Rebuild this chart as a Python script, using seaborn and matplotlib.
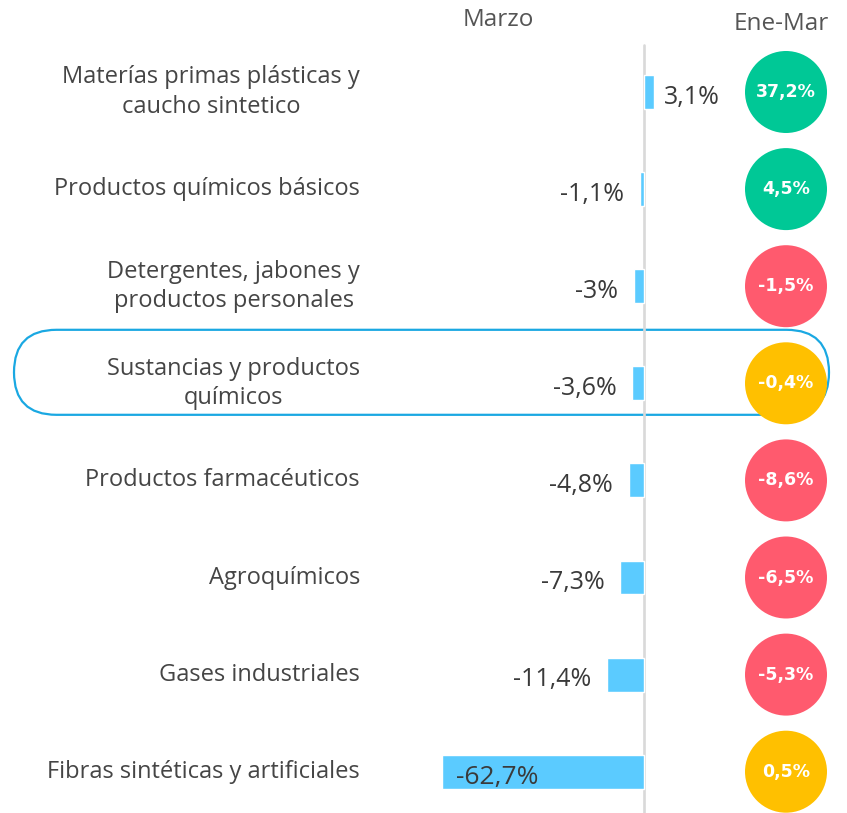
import matplotlib
matplotlib.use("Agg")
import matplotlib.pyplot as plt
import seaborn as sns
import pandas as pd
from matplotlib.patches import FancyBboxPatch

# ---- data ----
categorias = [
    "Materías primas plásticas y\ncaucho sintetico",
    "Productos químicos básicos",
    "Detergentes, jabones y\nproductos personales",
    "Sustancias y productos\nquímicos",
    "Productos farmacéuticos",
    "Agroquímicos",
    "Gases industriales",
    "Fibras sintéticas y artificiales",
]
marzo = [3.1, -1.1, -3.0, -3.6, -4.8, -7.3, -11.4, -62.7]
ene_mar = [37.2, 4.5, -1.5, -0.4, -8.6, -6.5, -5.3, 0.5]
titulo_marzo = "Marzo"
titulo_acum = "Ene-Mar"
fila_destacada = "Sustancias y productos\nquímicos"

# ---- style ----
sns.set_theme(style="white")
plt.rcParams["font.family"] = ["Open Sans", "DejaVu Sans"]

W, H = 847, 813
fig = plt.figure(figsize=(W / 100, H / 100), dpi=100)
fig.patch.set_facecolor("white")

# pixel overlay axes (1 unit = 1 px)
pax = fig.add_axes([0, 0, 1, 1])
pax.set_xlim(0, W)
pax.set_ylim(H, 0)
pax.axis("off")

# main data axes
ax = fig.add_axes([0, 0, 1, 1])
ax.patch.set_alpha(0)
px_per_pct = 3.22
x0 = 644
row0 = 92
row_step = 97.1
XLIM = (-x0 / px_per_pct, (W - x0) / px_per_pct)
YLIM = ((H - row0) / row_step, -row0 / row_step)

df = pd.DataFrame({"cat": categorias, "marzo": marzo, "acum": ene_mar})
sns.barplot(data=df, x="marzo", y="cat", orient="h", color="#5BCBFF",
            width=0.35, saturation=1, ax=ax, zorder=3)

# circles
circ_x = (786 - x0) / px_per_pct


def estado(v):
    if abs(v) < 1:
        return "estable"
    return "sube" if v > 0 else "baja"


paleta = {"estable": "#FFC000", "sube": "#00C896", "baja": "#FF5A6E"}
df["pos"] = range(len(df))
df["cx"] = circ_x
df["estado"] = [estado(v) for v in ene_mar]
sns.scatterplot(data=df, x="cx", y="pos", hue="estado", palette=paleta,
                s=(82 * 0.72) ** 2, linewidth=0, zorder=6, ax=ax, legend=False)

ax.set_xlim(*XLIM)
ax.set_ylim(*YLIM)
ax.axis("off")

# vertical zero line
ax.axvline(0, ymin=0, ymax=(H - 45) / H, color="#D9D9D9", lw=1.9, zorder=2)

txt_col = "#454545"
val_col = "#3a3a3a"
label_x = (360 - x0) / px_per_pct


def fmt(v):
    s = f"{v:.1f}"
    if v == int(v):
        s = f"{int(v)}"
    return s.replace(".", ",") + "%"


for i, (c, v) in enumerate(zip(categorias, marzo)):
    ax.text(label_x, i, c, ha="right", va="center", multialignment="center",
            fontsize=17, color=txt_col, linespacing=1.3)
    dy = 0.055
    if v >= 0:
        ax.text(v + 10 / px_per_pct, i + dy, fmt(v),
                ha="left", va="center", fontsize=18, color=val_col, zorder=5)
    elif v < -40:
        ax.text(v + 14 / px_per_pct, i + dy, fmt(v),
                ha="left", va="center", fontsize=19, color=val_col, zorder=5)
    else:
        ax.text(v - 16 / px_per_pct, i + dy, fmt(v),
                ha="right", va="center", fontsize=18, color=val_col, zorder=5)

for i, v in enumerate(ene_mar):
    ax.text(circ_x, i, fmt(v), ha="center", va="center", family="DejaVu Sans",
            fontsize=12.5, fontweight="bold", color="white", zorder=7)

# highlight box (centered on the highlighted circle row, slightly raised)
hi = categorias.index(fila_destacada)
yc = row0 + hi * row_step - 11
box = FancyBboxPatch((14 + 42.5, yc), 815 - 85, 0.01,
                     boxstyle="round,pad=42.5,rounding_size=42.5",
                     fc="none", ec="#1AA8E2", lw=1.6, zorder=1)
pax.add_patch(box)

# headers
pax.text(498, 20, titulo_marzo, ha="center", va="center", fontsize=17.5, color="#555555")
pax.text(781, 24, titulo_acum, ha="center", va="center", fontsize=17.5, color="#555555")

fig.savefig("out.png", dpi=100, facecolor="white")
